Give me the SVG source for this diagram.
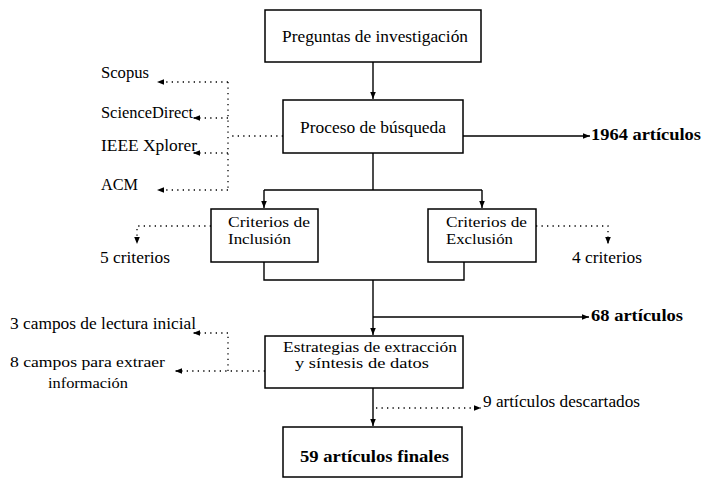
<svg xmlns="http://www.w3.org/2000/svg" width="702" height="478" viewBox="0 0 702 478">
<defs>
<marker id="ah" markerUnits="userSpaceOnUse" markerWidth="8" markerHeight="6" refX="7" refY="2.8" orient="auto">
<path d="M0,0 L7,2.8 L0,5.6 Z" fill="#000"/>
</marker>
<style>
.box{fill:#fff;stroke:#000;stroke-width:1.5}
.t{font-size:16.5px;fill:#000}
.m{font-size:14.5px}
.b{font-weight:bold}
.s{fill:none;stroke:#000;stroke-width:1.4}
.d{fill:none;stroke:#000;stroke-width:1.3;stroke-dasharray:1.3 4.2}
.a{marker-end:url(#ah)}
</style>
</defs>
<rect width="702" height="478" fill="#fff"/>
<g id="connectors">
<path class="s a" d="M373,62 V99"/>
<path class="s a" d="M463,136 H590"/>
<path class="s" d="M373,153 V190 M264,190 H482"/>
<path class="s a" d="M264,190 V208"/>
<path class="s a" d="M482,190 V208"/>
<path class="s" d="M264,262 V280 H464 V262"/>
<path class="s a" d="M373,280 V335"/>
<path class="s a" d="M373,317 H589"/>
<path class="s a" d="M373,388 V426"/>
<path class="d a" d="M376,408 H481"/>
<path class="d" d="M283,136 H228 M228,82 V190"/>
<path class="d a" d="M228,82 H157"/>
<path class="d a" d="M228,118 H193"/>
<path class="d a" d="M228,153 H193"/>
<path class="d a" d="M228,190 H157"/>
<path class="d a" d="M211,226 H137 V244"/>
<path class="d a" d="M536,226 H608 V244"/>
<path class="d a" d="M265,371 H175"/>
<path class="d" d="M228,371 V333"/>
<path class="d a" d="M228,333 H193"/>
</g>
<g font-family="'Liberation Serif', 'DejaVu Serif', 'Times New Roman', serif">
<g id="preguntas">
<rect class="box" x="265" y="10" width="216" height="52"/>
<text class="t" x="282" y="42" textLength="186" lengthAdjust="spacingAndGlyphs">Preguntas de investigación</text>
</g>
<g id="proceso">
<rect class="box" x="283" y="100" width="180" height="53"/>
<text class="t" x="300" y="133" textLength="146" lengthAdjust="spacingAndGlyphs">Proceso de búsqueda</text>
</g>
<g id="n1964">
<text class="t b" x="591" y="140" textLength="110" lengthAdjust="spacingAndGlyphs">1964 artículos</text>
</g>
<g id="scopus"><text class="t" x="101" y="78" textLength="48" lengthAdjust="spacingAndGlyphs">Scopus</text></g>
<g id="sciencedirect"><text class="t" x="101" y="118" textLength="92" lengthAdjust="spacingAndGlyphs">ScienceDirect</text></g>
<g id="ieee"><text class="t" x="101" y="151" textLength="96" lengthAdjust="spacingAndGlyphs">IEEE Xplorer</text></g>
<g id="acm"><text class="t" x="101" y="190" textLength="37" lengthAdjust="spacingAndGlyphs">ACM</text></g>
<g id="inclusion">
<rect class="box" x="211" y="209" width="107" height="53"/>
<text class="t m" x="228" y="227" textLength="82" lengthAdjust="spacingAndGlyphs">Criterios de</text>
<text class="t m" x="228" y="244" textLength="63" lengthAdjust="spacingAndGlyphs">Inclusión</text>
</g>
<g id="exclusion">
<rect class="box" x="428" y="209" width="108" height="53"/>
<text class="t m" x="446" y="227" textLength="81" lengthAdjust="spacingAndGlyphs">Criterios de</text>
<text class="t m" x="446" y="244" textLength="67" lengthAdjust="spacingAndGlyphs">Exclusión</text>
</g>
<g id="cinco"><text class="t" x="100" y="263" textLength="70" lengthAdjust="spacingAndGlyphs">5 criterios</text></g>
<g id="cuatro"><text class="t" x="572" y="263" textLength="70" lengthAdjust="spacingAndGlyphs">4 criterios</text></g>
<g id="n68"><text class="t b" x="591" y="321" textLength="92" lengthAdjust="spacingAndGlyphs">68 artículos</text></g>
<g id="estrategias">
<rect class="box" x="265" y="336" width="198" height="52"/>
<text class="t m" x="283" y="352" textLength="174" lengthAdjust="spacingAndGlyphs">Estrategias de extracción</text>
<text class="t m" x="295" y="368" textLength="134" lengthAdjust="spacingAndGlyphs">y síntesis de datos</text>
</g>
<g id="tres"><text class="t" x="10" y="329" textLength="186" lengthAdjust="spacingAndGlyphs">3 campos de lectura inicial</text></g>
<g id="ocho">
<text class="t m" x="10" y="367" textLength="155" lengthAdjust="spacingAndGlyphs">8 campos para extraer</text>
<text class="t m" x="48" y="388" textLength="80" lengthAdjust="spacingAndGlyphs">información</text>
</g>
<g id="nueve"><text class="t" x="483" y="407" textLength="157" lengthAdjust="spacingAndGlyphs">9 artículos descartados</text></g>
<g id="finales">
<rect class="box" x="283" y="427" width="179" height="50"/>
<text class="t b" x="300" y="462" textLength="149" lengthAdjust="spacingAndGlyphs">59 artículos finales</text>
</g>
</g>
</svg>
